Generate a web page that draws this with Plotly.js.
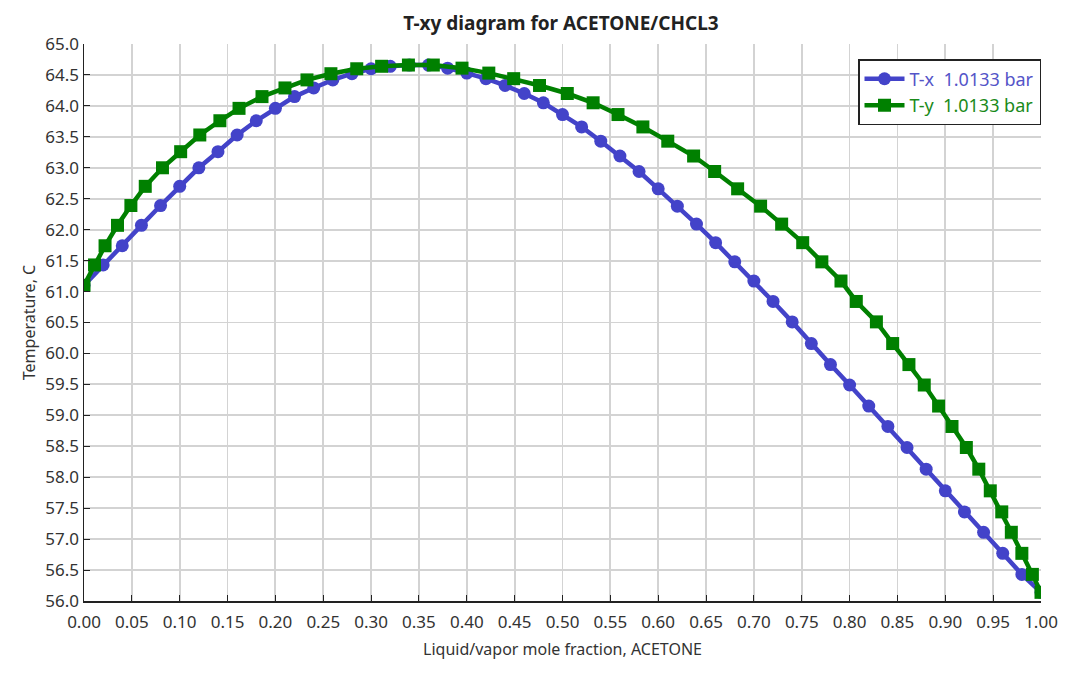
<!DOCTYPE html>
<html>
<head>
<meta charset="utf-8">
<script src="https://cdn.plot.ly/plotly-3.0.1.min.js"></script>
<style>
  html, body { margin: 0; padding: 0; background: #fff; }
  #chart { width: 1083px; height: 687px; }
</style>
</head>
<body>
<div id="chart"></div>
<script>
// liquid mole fraction of acetone (T-x points)
var xLiquid = [0.00, 0.02, 0.04, 0.06, 0.08, 0.10, 0.12, 0.14, 0.16, 0.18,
               0.20, 0.22, 0.24, 0.26, 0.28, 0.30, 0.32, 0.34, 0.36, 0.38,
               0.40, 0.42, 0.44, 0.46, 0.48, 0.50, 0.52, 0.54, 0.56, 0.58,
               0.60, 0.62, 0.64, 0.66, 0.68, 0.70, 0.72, 0.74, 0.76, 0.78,
               0.80, 0.82, 0.84, 0.86, 0.88, 0.90, 0.92, 0.94, 0.96, 0.98, 1.00];

// vapor mole fraction of acetone in equilibrium (T-y points)
var yVapor = [0.000, 0.011, 0.022, 0.035, 0.049, 0.064, 0.082, 0.101, 0.121, 0.142,
              0.162, 0.186, 0.210, 0.233, 0.258, 0.285, 0.311, 0.339, 0.365, 0.395,
              0.423, 0.449, 0.476, 0.505, 0.532, 0.558, 0.584, 0.610, 0.637, 0.659,
              0.683, 0.707, 0.729, 0.751, 0.771, 0.791, 0.807, 0.828, 0.845, 0.862,
              0.878, 0.893, 0.907, 0.922, 0.935, 0.947, 0.959, 0.969, 0.980, 0.991, 1.000];

// bubble/dew temperature, C
var tempC = [61.10, 61.43, 61.74, 62.07, 62.39, 62.70, 63.00, 63.26, 63.53, 63.76,
             63.96, 64.15, 64.29, 64.42, 64.52, 64.60, 64.64, 64.66, 64.66, 64.61,
             64.53, 64.44, 64.33, 64.20, 64.05, 63.86, 63.66, 63.43, 63.19, 62.94,
             62.66, 62.38, 62.09, 61.79, 61.48, 61.17, 60.84, 60.51, 60.16, 59.82,
             59.49, 59.15, 58.82, 58.48, 58.13, 57.78, 57.44, 57.11, 56.77, 56.43, 56.14];

var xTicks = [];
for (let i = 0; i <= 20; i++) xTicks.push(i * 0.05);
var yTicks = [];
for (let i = 0; i <= 18; i++) yTicks.push(56 + i * 0.5);

var blue = "#4343c9";
var green = "#008000";
var fontFam = "Noto Sans, DejaVu Sans, sans-serif";

var traceX = {
    type: "scatter",
    mode: "lines+markers",
    name: '<span style="color:#5454c8">T-x  1.0133 bar</span>',
    x: xLiquid,
    y: tempC,
    line: {color: blue, width: 4.5},
    marker: {color: blue, size: 13, symbol: "circle"}
};

var traceY = {
    type: "scatter",
    mode: "lines+markers",
    name: '<span style="color:#1a8a1a">T-y  1.0133 bar</span>',
    x: yVapor,
    y: tempC,
    line: {color: green, width: 4.5},
    marker: {color: green, size: 13, symbol: "square"}
};

var layout = {
    width: 1083,
    height: 687,
    margin: {l: 84, r: 42, t: 44, b: 86},
    paper_bgcolor: "#ffffff",
    plot_bgcolor: "#ffffff",
    font: {family: fontFam, size: 16, color: "#333333"},
    title: {
        text: "<b>T-xy diagram for ACETONE/CHCL3</b>",
        font: {family: fontFam, size: 19, color: "#222222"},
        x: 0.518,
        xanchor: "center",
        y: 0.966,
        yanchor: "middle"
    },
    xaxis: {
        range: [0, 1],
        tickvals: xTicks,
        tickformat: ".2f",
        tickfont: {size: 17},
        ticklabelstandoff: 5,
        showline: true,
        linecolor: "#222222",
        linewidth: 1.5,
        ticks: "inside",
        ticklen: 6,
        tickcolor: "#222222",
        showgrid: true,
        gridcolor: "#d3d3d3",
        gridwidth: 1.8,
        zeroline: false,
        title: {text: "Liquid/vapor mole fraction, ACETONE", font: {size: 16}, standoff: 12}
    },
    yaxis: {
        range: [56, 65],
        tickvals: yTicks,
        tickformat: ".1f",
        tickfont: {size: 17},
        showline: true,
        linecolor: "#222222",
        linewidth: 1.5,
        ticks: "inside",
        ticklen: 6,
        tickcolor: "#222222",
        showgrid: true,
        gridcolor: "#d3d3d3",
        gridwidth: 1.8,
        zeroline: false,
        title: {text: "Temperature, C", font: {size: 16}, standoff: 6}
    },
    legend: {
        x: 1,
        xanchor: "right",
        y: 0.973,
        yanchor: "top",
        bgcolor: "#ffffff",
        bordercolor: "#222222",
        borderwidth: 1.5,
        font: {size: 18},
        tracegroupgap: 0,
        itemwidth: 40
    },
    showlegend: true
};

Plotly.newPlot("chart", [traceX, traceY], layout, {displayModeBar: false, staticPlot: true});
</script>
</body>
</html>
